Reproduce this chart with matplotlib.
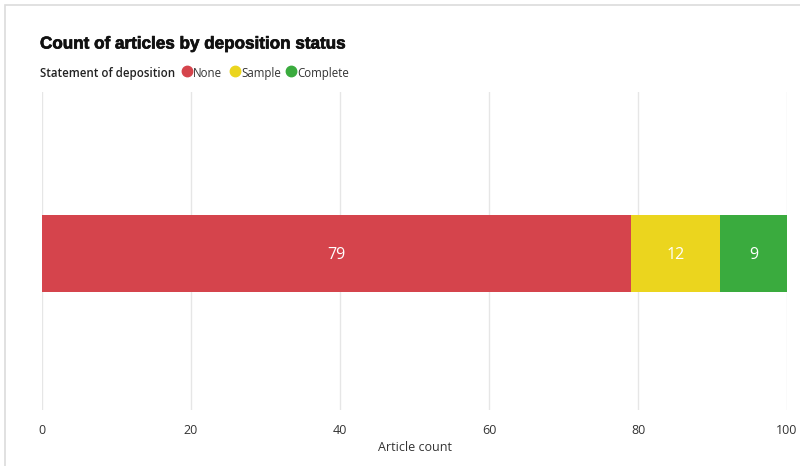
import matplotlib
matplotlib.use("Agg")
import matplotlib.pyplot as plt
from matplotlib.patches import Rectangle
from matplotlib.lines import Line2D
import matplotlib.patheffects as pe

# Data
statuses = ["None", "Sample", "Complete"]
counts = [79, 12, 9]
colors = ["#D5444C", "#EBD51E", "#3AAB3E"]
xticks = [0, 20, 40, 60, 80, 100]

W, H = 800, 466
fig = plt.figure(figsize=(W / 100, H / 100), dpi=100)
fig.patch.set_facecolor("white")

# Card border
fig.add_artist(Rectangle((5 / W, -0.05), 1.1, 1 - 5 / H + 0.05, transform=fig.transFigure,
                         facecolor="none", edgecolor="#dcdcdc", linewidth=1.2))

ax = fig.add_axes([42 / W, 1 - 410 / H, (787 - 42) / W, (410 - 92) / H])

left = 0
for name, val, col in zip(statuses, counts, colors):
    ax.barh(0, val, left=left, height=0.242, color=col, edgecolor="none", zorder=3)
    ax.text(left + val / 2, -0.006, str(val), ha="center", va="center", color="white",
            fontsize=11.5, family="Open Sans", zorder=4)
    left += val

ax.set_xlim(0, 100)
ax.set_ylim(-0.492, 0.508)
ax.set_xticks(xticks)
ax.set_xticklabels([str(t) for t in xticks], fontsize=9, color="#333333", family="Open Sans")
ax.set_yticks([])
ax.grid(axis="x", color="#e6e6e6", linewidth=1, zorder=0)
for s in ax.spines.values():
    s.set_visible(False)
ax.tick_params(axis="x", length=0, pad=10)
ax.set_xlabel("Article count", fontsize=9, color="#333333", family="Open Sans", labelpad=3)

# Title
fig.text(40 / W, 1 - 44 / H, "Count of articles by deposition status", fontsize=12.3,
         fontweight="bold", family="Liberation Sans", color="#111111", va="center", ha="left",
         path_effects=[pe.withStroke(linewidth=0.5, foreground="#111111")])

# Legend row
ly = 1 - 72 / H
fig.text(40 / W, ly, "Statement of deposition", fontsize=8.3, fontweight="semibold",
         family="Open Sans", color="#222222", va="center_baseline", ha="left")
legend_items = [(187, "None"), (235, "Sample"), (291, "Complete")]
for (px, name), col in zip(legend_items, colors):
    fig.add_artist(Line2D([px / W], [ly + 1 / H], marker="o", markersize=7.5, color=col,
                          linestyle="none", transform=fig.transFigure))
    fig.text((px + 6) / W, ly, name, fontsize=8.3, family="Open Sans", color="#333333",
             va="center_baseline", ha="left")

fig.savefig("out.png", dpi=100)
